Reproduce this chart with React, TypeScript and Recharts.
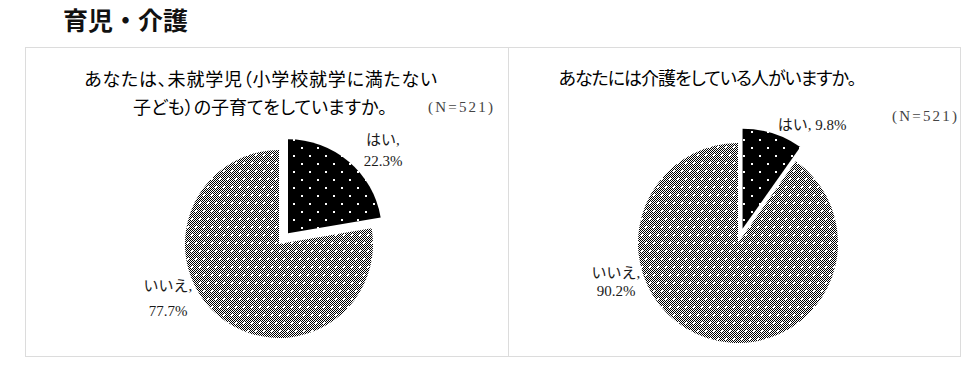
import React from 'react';
import { PieChart, Pie, Cell } from 'recharts';

const heading = '育児・介護';
const answers = ['はい', 'いいえ'];
const childcareShare = [22.3, 77.7];
const nursingShare = [9.8, 90.2];
const sampleSize = 521;
const childcareTitle = ['あなたは、未就学児（小学校就学に満たない', '子ども）の子育てをしていますか。'];
const nursingTitle = 'あなたには介護をしている人がいますか。';

const JP = '"Noto Sans CJK JP", "Noto Sans", sans-serif';
const LABEL_FONT = '"Liberation Serif", "Noto Sans CJK JP", serif';

type LabelSpot = { dx: number; dy: number; lines: 1 | 2; gap?: number };

function Patterns({ id }: { id: string }) {
  return (
    <defs>
      <pattern id={`${id}-chk`} width={2} height={2} patternUnits="userSpaceOnUse">
        <rect width={2} height={2} fill="#fff" />
        <rect width={1} height={1} fill="#000" />
        <rect x={1} y={1} width={1} height={1} fill="#000" />
      </pattern>
      <pattern id={`${id}-gray`} width={8} height={16} patternUnits="userSpaceOnUse">
        <rect width={8} height={16} fill={`url(#${id}-chk)`} />
        <rect x={1} y={2} width={2} height={2} fill="#fff" />
        <rect x={5} y={10} width={2} height={2} fill="#fff" />
      </pattern>
      <pattern id={`${id}-black`} width={16} height={16} patternUnits="userSpaceOnUse">
        <rect width={16} height={16} fill="#000" />
        <rect x={3} y={3} width={2} height={2} fill="#fff" />
        <rect x={11} y={11} width={2} height={2} fill="#fff" />
      </pattern>
    </defs>
  );
}

function ExplodedPie({
  id, values, width, height, cx, cy, r, explode, spots,
}: {
  id: string; values: number[]; width: number; height: number;
  cx: number; cy: number; r: number; explode: number; spots: LabelSpot[];
}) {
  const data = answers.map((name, i) => ({ name, value: values[i] }));
  const total = values.reduce((s, v) => s + v, 0);
  // the first slice is pulled out along its middle angle
  const mid = ((90 - (values[0] / total) * 180) * Math.PI) / 180;
  const ox = Math.cos(mid) * explode;
  const oy = -Math.sin(mid) * explode;

  const renderLabel = (p: any) => {
    const i = p.index as number;
    const s = spots[i];
    const x = Number(p.cx) + s.dx;
    const y = Number(p.cy) + s.dy;
    const pct = `${values[i].toFixed(1)}%`;
    return (
      <text x={x} y={y} textAnchor="middle" fill="#1a1a1a" fontSize={15} fontFamily={LABEL_FONT} dominantBaseline="central">
        {s.lines === 1 ? (
          `${answers[i]}, ${pct}`
        ) : (
          <>
            <tspan x={x} dy={0}>{`${answers[i]},`}</tspan>
            <tspan x={x} dy={s.gap ?? 21}>{pct}</tspan>
          </>
        )}
      </text>
    );
  };

  return (
    <PieChart
      width={width} height={height}
      margin={{ top: 0, right: 0, bottom: 0, left: 0 }}
      style={{ position: 'absolute', left: 0, top: 0 }}
    >
      <Patterns id={id} />
      <Pie
        data={data} dataKey="value" cx={cx} cy={cy} outerRadius={r}
        startAngle={90} endAngle={-270} stroke="none"
        label={renderLabel} labelLine={false} isAnimationActive={false}
      >
        <Cell fill="transparent" />
        <Cell fill={`url(#${id}-gray)`} />
      </Pie>
      <Pie
        data={data} dataKey="value" cx={cx + ox} cy={cy + oy} outerRadius={r}
        startAngle={90} endAngle={-270} stroke="none" isAnimationActive={false}
      >
        <Cell fill={`url(#${id}-black)`} />
        <Cell fill="transparent" />
      </Pie>
    </PieChart>
  );
}

const nStyle: React.CSSProperties = {
  position: 'absolute', fontFamily: '"Liberation Serif", serif', fontSize: 15,
  lineHeight: '15px', letterSpacing: 2.2, color: '#444', whiteSpace: 'nowrap',
};
const titleStyle: React.CSSProperties = {
  position: 'absolute', fontSize: 18, lineHeight: '18px', color: '#000',
  textAlign: 'center', whiteSpace: 'nowrap', fontFeatureSettings: '"palt"',
};

export default function App() {
  return (
    <div style={{ position: 'absolute', left: 0, top: 0, width: 977, height: 373, background: '#fff', fontFamily: JP, overflow: 'hidden' }}>
      <div style={{ position: 'absolute', left: 63, top: 7, fontSize: 25, lineHeight: '25px', fontWeight: 700, color: '#111' }}>
        {heading}
      </div>

      <div style={{ position: 'absolute', left: 25, top: 47, width: 484, height: 310, border: '1px solid #dcdcdc', boxSizing: 'border-box' }}>
        <ExplodedPie
          id="kids" values={childcareShare} width={482} height={308}
          cx={253} cy={196} r={94} explode={14}
          spots={[{ dx: 104, dy: -104, lines: 2, gap: 21 }, { dx: -111, dy: 42, lines: 2, gap: 25 }]}
        />
        <div style={{ ...titleStyle, left: 0, top: 21, width: 470, letterSpacing: 0.8 }}>{childcareTitle[0]}</div>
        <div style={{ ...titleStyle, left: 0, top: 49, width: 468 }}>{childcareTitle[1]}</div>
        <div style={{ ...nStyle, left: 402, top: 52 }}>{`(N=${sampleSize})`}</div>
      </div>

      <div style={{ position: 'absolute', left: 508, top: 47, width: 453, height: 310, borderTop: '1px solid #dcdcdc', borderRight: '1px solid #dcdcdc', borderBottom: '1px solid #dcdcdc', boxSizing: 'border-box' }}>
        <ExplodedPie
          id="care" values={nursingShare} width={452} height={308}
          cx={230} cy={195} r={100} explode={15}
          spots={[{ dx: 74, dy: -118, lines: 1 }, { dx: -122, dy: 30, lines: 2, gap: 18 }]}
        />
        <div style={{ ...titleStyle, left: 0, top: 20, width: 398, letterSpacing: -1 }}>{nursingTitle}</div>
        <div style={{ ...nStyle, left: 384, top: 61 }}>{`(N=${sampleSize})`}</div>
      </div>
    </div>
  );
}
